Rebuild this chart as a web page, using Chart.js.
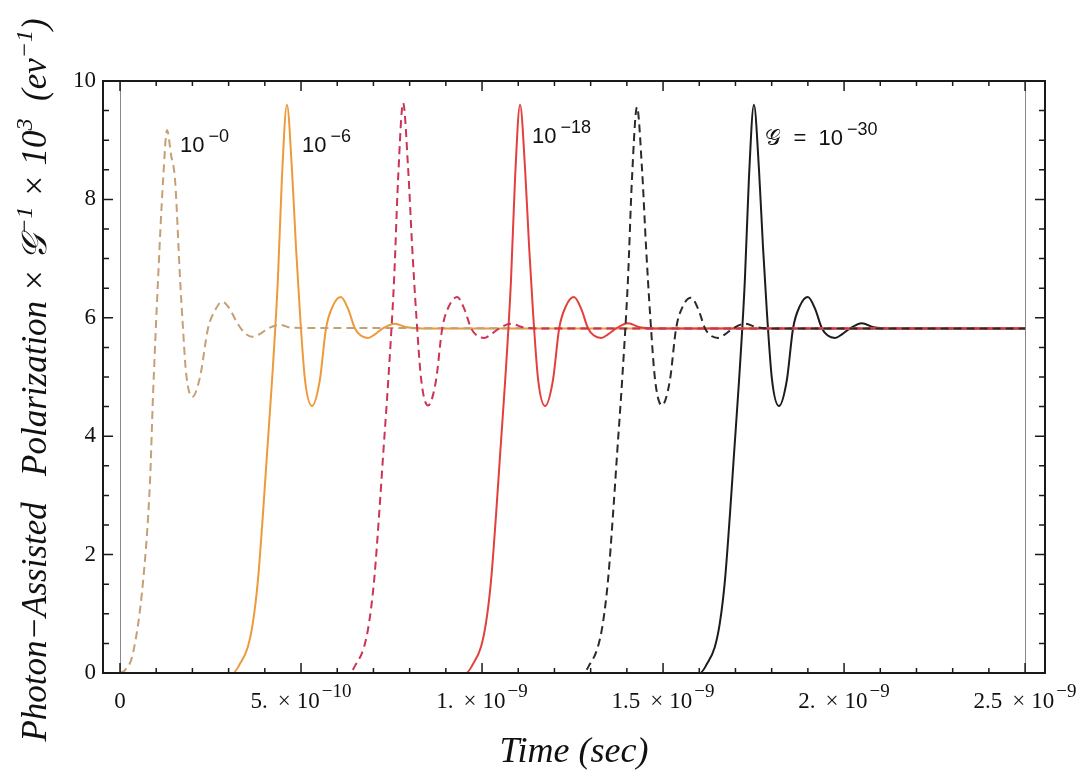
<!DOCTYPE html>
<html>
<head>
<meta charset="utf-8">
<script src="https://cdn.jsdelivr.net/npm/chart.js@4"></script>
<style>
  html, body { margin: 0; padding: 0; background: #fff; }
  #wrap { width: 1084px; height: 774px; }
</style>
</head>
<body>
<div id="wrap"><canvas id="chart" width="1084" height="774"></canvas></div>
<script>
// Time is in units of 1e-9 s, values are Polarization x G^-1 x 10^3 (ev^-1)

// G = 10^-0 (dashed, tan)
const timeG0 = [0, 0.014, 0.036, 0.064, 0.083, 0.091, 0.105, 0.119, 0.130, 0.141, 0.152, 0.166, 0.174, 0.182, 0.199, 0.221, 0.243, 0.262, 0.282, 0.303, 0.323, 0.345, 0.365, 0.387, 0.409, 0.442, 0.475, 2.5];
const polG0 = [0, 0.05, 0.34, 1.57, 3.26, 4.66, 6.64, 8.33, 9.17, 8.75, 8.33, 6.64, 5.82, 5.1, 4.66, 5.0, 5.82, 6.12, 6.27, 6.15, 5.92, 5.74, 5.68, 5.73, 5.82, 5.88, 5.83, 5.82];

// G = 10^-6 (solid, orange)
const timeG6 = [0, 0.312, 0.331, 0.353, 0.367, 0.381, 0.395, 0.406, 0.420, 0.436, 0.447, 0.461, 0.475, 0.486, 0.497, 0.511, 0.530, 0.552, 0.569, 0.588, 0.610, 0.630, 0.649, 0.665, 0.685, 0.704, 0.726, 0.759, 0.792, 0.834, 2.5];
const polG6 = [0, 0, 0.15, 0.44, 0.85, 1.57, 2.7, 3.7, 4.95, 6.64, 8.33, 9.6, 8.5, 7.2, 6.08, 4.95, 4.51, 4.95, 5.82, 6.2, 6.35, 6.15, 5.82, 5.7, 5.66, 5.72, 5.82, 5.9, 5.84, 5.82, 5.82];

// G = 10^-12 (dashed, crimson)
const timeG12 = [0, 0.633, 0.652, 0.674, 0.688, 0.702, 0.716, 0.727, 0.741, 0.757, 0.768, 0.782, 0.796, 0.807, 0.818, 0.832, 0.851, 0.873, 0.890, 0.909, 0.931, 0.951, 0.970, 0.986, 1.006, 1.025, 1.047, 1.080, 1.113, 1.155, 2.5];
const polG12 = [0, 0, 0.15, 0.44, 0.85, 1.57, 2.7, 3.7, 4.95, 6.64, 8.33, 9.63, 8.5, 7.2, 6.08, 4.95, 4.52, 4.95, 5.82, 6.2, 6.35, 6.15, 5.82, 5.7, 5.66, 5.72, 5.82, 5.9, 5.84, 5.82, 5.82];

// G = 10^-18 (solid, red)
const timeG18 = [0, 0.956, 0.975, 0.997, 1.011, 1.025, 1.039, 1.050, 1.064, 1.080, 1.091, 1.105, 1.119, 1.130, 1.141, 1.155, 1.174, 1.196, 1.213, 1.232, 1.254, 1.274, 1.293, 1.309, 1.329, 1.348, 1.370, 1.403, 1.436, 1.478, 2.5];
const polG18 = [0, 0, 0.15, 0.44, 0.85, 1.57, 2.7, 3.7, 4.95, 6.64, 8.33, 9.6, 8.5, 7.2, 6.08, 4.95, 4.51, 4.95, 5.82, 6.2, 6.35, 6.15, 5.82, 5.7, 5.66, 5.72, 5.82, 5.91, 5.84, 5.82, 5.82];

// G = 10^-24 (dashed, black)
const timeG24 = [0, 1.279, 1.298, 1.320, 1.334, 1.348, 1.362, 1.373, 1.387, 1.403, 1.414, 1.428, 1.442, 1.453, 1.464, 1.478, 1.497, 1.519, 1.536, 1.555, 1.577, 1.597, 1.616, 1.632, 1.652, 1.671, 1.693, 1.726, 1.759, 1.801, 2.5];
const polG24 = [0, 0, 0.15, 0.44, 0.85, 1.57, 2.7, 3.7, 4.95, 6.64, 8.33, 9.56, 8.5, 7.2, 6.08, 4.95, 4.52, 4.95, 5.82, 6.2, 6.34, 6.15, 5.82, 5.7, 5.66, 5.72, 5.82, 5.9, 5.84, 5.82, 5.82];

// G = 10^-30 (solid, black)
const timeG30 = [0, 1.602, 1.621, 1.643, 1.657, 1.671, 1.685, 1.696, 1.710, 1.726, 1.737, 1.751, 1.765, 1.776, 1.787, 1.801, 1.820, 1.842, 1.859, 1.878, 1.900, 1.920, 1.939, 1.955, 1.975, 1.994, 2.016, 2.049, 2.082, 2.124, 2.5];
const polG30 = [0, 0, 0.15, 0.44, 0.85, 1.57, 2.7, 3.7, 4.95, 6.64, 8.33, 9.6, 8.5, 7.2, 6.08, 4.95, 4.51, 4.95, 5.82, 6.2, 6.35, 6.15, 5.82, 5.7, 5.66, 5.72, 5.82, 5.91, 5.84, 5.82, 5.82];

// Axis ticks: x labels are mantissa x 10^exponent
const xTickValues = [0, 0.5, 1, 1.5, 2, 2.5];
const xTickMantissa = ['0', '5.', '1.', '1.5', '2.', '2.5'];
const xTickExponent = ['', '−10', '−9', '−9', '−9', '−9'];
const yTickValues = [0, 2, 4, 6, 8, 10];
const yTickLabels = ['0', '2', '4', '6', '8', '10'];

// Curve labels: [base text, exponent, time, value]
const curveLabels = [
    ['10', '−0', 0.166, 8.80],
    ['10', '−6', 0.503, 8.80],
    ['10', '−18', 1.138, 8.95],
    ['𝒢  =  10', '−30', 1.782, 8.92]
];

const SERIF = '"Liberation Serif", "DejaVu Serif", serif';
const SANS = '"Liberation Sans", "DejaVu Sans", sans-serif';

function toPoints(times, values) {
    return times.map((t, i) => ({ x: t, y: values[i] }));
}

function makeSet(label, times, values, color, dashed, order) {
    return {
        label: label,
        data: toPoints(times, values),
        borderColor: color,
        borderWidth: 2,
        borderDash: dashed ? [8, 5] : [],
        pointRadius: 0,
        fill: false,
        cubicInterpolationMode: 'monotone',
        order: order
    };
}

// Draw text made of pieces (normal + superscript) starting at x
function drawPieces(ctx, pieces, x, y, align) {
    let w = 0;
    pieces.forEach(p => { ctx.font = p.font; w += ctx.measureText(p.text).width + (p.gap || 0); });
    let cx = x;
    if (align === 'center') cx = x - w / 2;
    if (align === 'right') cx = x - w;
    pieces.forEach(p => {
        ctx.font = p.font;
        cx += p.gap || 0;
        ctx.fillText(p.text, cx, y + (p.dy || 0));
        cx += ctx.measureText(p.text).width;
    });
}

const framePlugin = {
    id: 'frame',
    beforeDatasetsDraw(chart) {
        const { ctx, chartArea: a, scales: { x } } = chart;
        ctx.save();
        ctx.strokeStyle = '#8a8a8a';
        ctx.lineWidth = 1;
        [0, 2.5].forEach(v => {
            const px = Math.round(x.getPixelForValue(v)) + 0.5;
            ctx.beginPath();
            ctx.moveTo(px, a.top);
            ctx.lineTo(px, a.bottom);
            ctx.stroke();
        });
        ctx.restore();
    },
    afterDatasetsDraw(chart) {
        const { ctx, chartArea: a, scales: { x, y } } = chart;
        ctx.save();

        // frame
        ctx.strokeStyle = '#1a1a1a';
        ctx.lineWidth = 2;
        ctx.strokeRect(a.left, a.top, a.right - a.left, a.bottom - a.top);

        // ticks, pointing inward on all four sides
        ctx.lineWidth = 1.5;
        ctx.beginPath();
        for (let i = 0; i <= 25; i++) {
            const px = x.getPixelForValue(i / 10);
            const len = i % 5 === 0 ? 10 : 5;
            ctx.moveTo(px, a.bottom); ctx.lineTo(px, a.bottom - len);
            ctx.moveTo(px, a.top); ctx.lineTo(px, a.top + len);
        }
        for (let i = 0; i <= 20; i++) {
            const py = y.getPixelForValue(i / 2);
            const len = i % 4 === 0 ? 10 : 6;
            ctx.moveTo(a.left, py); ctx.lineTo(a.left + len, py);
            ctx.moveTo(a.right, py); ctx.lineTo(a.right - len, py);
        }
        ctx.stroke();

        // tick labels
        ctx.fillStyle = '#111';
        ctx.textBaseline = 'alphabetic';
        const tickFont = '23px ' + SERIF;
        xTickValues.forEach((v, i) => {
            const pieces = [{ text: xTickMantissa[i], font: tickFont }];
            if (xTickExponent[i]) {
                pieces.push({ text: '×', font: tickFont, gap: 10 });
                pieces.push({ text: '10', font: tickFont, gap: 6 });
                pieces.push({ text: xTickExponent[i], font: '19px ' + SERIF, dy: -11, gap: 2 });
            }
            drawPieces(ctx, pieces, x.getPixelForValue(v), a.bottom + 35, 'center');
        });
        ctx.textBaseline = 'middle';
        ctx.textAlign = 'right';
        ctx.font = '23px ' + SERIF;
        yTickValues.forEach((v, i) => {
            ctx.fillText(yTickLabels[i], a.left - 7, y.getPixelForValue(v));
        });

        // curve labels
        ctx.textAlign = 'left';
        ctx.textBaseline = 'alphabetic';
        curveLabels.forEach(([base, sup, t, v]) => {
            drawPieces(ctx, [
                { text: base, font: '22px ' + SANS },
                { text: sup, font: '18px ' + SANS, dy: -10, gap: 4 }
            ], x.getPixelForValue(t), y.getPixelForValue(v), 'left');
        });

        // axis titles
        const it = 'italic 35px ' + SERIF;
        const itSup = 'italic 24px ' + SERIF;
        drawPieces(ctx, [{ text: 'Time (sec)', font: 'italic 36px ' + SERIF }], (a.left + a.right) / 2, a.bottom + 89, 'center');

        ctx.translate(a.left - 57, (a.top + a.bottom) / 2 + 3);
        ctx.rotate(-Math.PI / 2);
        drawPieces(ctx, [
            { text: 'Photon−Assisted   Polarization × ', font: it },
            { text: '𝒢', font: it },
            { text: '−1', font: itSup, dy: -14 },
            { text: ' × 10', font: it },
            { text: '3', font: itSup, dy: -14 },
            { text: '  (ev', font: it },
            { text: '−1', font: itSup, dy: -14 },
            { text: ')', font: it }
        ], 0, 0, 'center');

        ctx.restore();
    }
};

new Chart(document.getElementById('chart'), {
    type: 'line',
    data: {
        datasets: [
            makeSet('10^-0', timeG0, polG0, '#c4a074', true, 3),
            makeSet('10^-6', timeG6, polG6, '#ee9a3c', false, 4),
            makeSet('10^-12', timeG12, polG12, '#cc3355', true, 1),
            makeSet('10^-18', timeG18, polG18, '#e2403c', false, 2),
            makeSet('10^-24', timeG24, polG24, '#2a2a2a', true, 0),
            makeSet('10^-30', timeG30, polG30, '#1c1c1c', false, 5)
        ]
    },
    options: {
        responsive: false,
        animation: false,
        layout: { padding: { left: 103, right: 39, top: 81, bottom: 101 } },
        plugins: { legend: { display: false }, tooltip: { enabled: false } },
        scales: {
            x: { type: 'linear', min: -0.047, max: 2.555, display: false },
            y: { type: 'linear', min: 0, max: 10, display: false }
        }
    },
    plugins: [framePlugin]
});
</script>
</body>
</html>
